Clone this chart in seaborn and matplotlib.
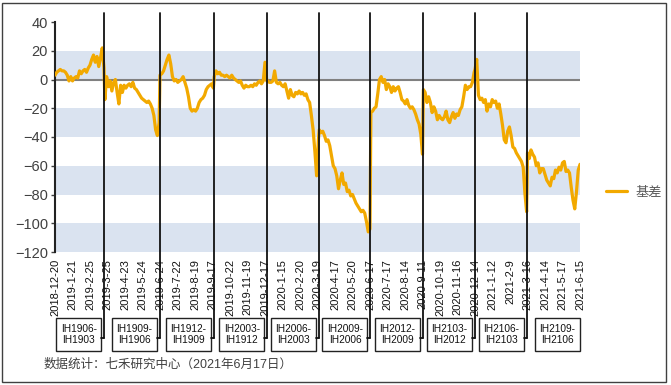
import numpy as np
import pandas as pd
import matplotlib
matplotlib.use("Agg")
import matplotlib.pyplot as plt
import seaborn as sns
from matplotlib.patches import Rectangle
from matplotlib.lines import Line2D
from matplotlib.transforms import blended_transform_factory

# trading-day index where each contract pair starts (last = end of data + 1)
roll_days = [0, 57, 120, 182, 243, 302, 361, 421, 480, 540, 601]

contracts = [
    "IH1906-\nIH1903", "IH1909-\nIH1906", "IH1912-\nIH1909", "IH2003-\nIH1912",
    "IH2006-\nIH2003", "IH2009-\nIH2006", "IH2012-\nIH2009", "IH2103-\nIH2012",
    "IH2106-\nIH2103", "IH2109-\nIH2106",
]

# basis values (roughly every 2 trading days)
seg_1906 = [3, 5, 6, 7, 6, 6, 5, 3, -1, 2, -1, 1, 2, 1, 6, 4, 6, 7, 5, 8,
            10, 14, 17, 12, 16, 9, 15, 22, 8]
seg_1909 = [-14, 2, -5, -1, -8, -2, 0, -9, -17, -4, -9, -4, -6, -4, -3, -5,
            -2, -6, -7, -9, -11, -13, -14, -15, -16, -15, -17, -20, -25, -35,
            -39, -30]
seg_1912 = [3, 4, 6, 10, 14, 17, 11, 2, -1, 0, -2, -1, 0, 2, -2, -6, -12,
            -20, -22, -21, -22, -20, -16, -14, -13, -11, -7, -5, -4, -3, -6]
seg_2003 = [2, 6, 4, 5, 3, 3, 2, 3, 2, 1, 3, 1, 0, -1, -2, -1, -4, -6, -4,
            -5, -5, -4, -5, -3, -4, -2, -1, -3, -1, 12, -1]
seg_2006 = [-1, -2, -2, -1, 6, -2, -3, -2, -4, -5, -3, -8, -13, -7, -11,
            -12, -9, -10, -8, -10, -9, -11, -10, -14, -16, -25, -35, -50,
            -67, -42]
seg_2009 = [-35, -37, -36, -39, -43, -42, -46, -53, -60, -62, -67, -76, -70,
            -65, -73, -72, -78, -77, -81, -80, -83, -86, -88, -90, -92, -91,
            -93, -99, -106, -104]
seg_2012 = [-23, -22, -20, -19, -10, 0, 2, -2, 0, -7, -3, -5, -9, -5, -8,
            -6, -5, -9, -14, -15, -17, -14, -18, -20, -19, -21, -24, -28,
            -31, -38, -52]
seg_2103 = [-7, -9, -16, -12, -16, -23, -19, -22, -28, -25, -27, -28, -26,
            -22, -28, -30, -26, -23, -27, -24, -25, -21, -19, -12, -4, -7,
            -5, -5, -2, 5]
seg_2106 = [7, 14, -11, -14, -13, -16, -14, -22, -17, -19, -14, -16, -15,
            -20, -17, -24, -32, -42, -44, -36, -33, -39, -47, -48, -51, -53,
            -55, -57, -61, -79, -92]
seg_2109 = [-51, -55, -49, -52, -54, -60, -58, -65, -62, -62, -66, -70, -72,
            -74, -68, -69, -63, -65, -61, -63, -58, -57, -64, -63, -65, -75,
            -84, -90, -78, -63, -59]

tick_dates = [
    "2018-12-20", "2019-1-21", "2019-2-25", "2019-3-25", "2019-4-23",
    "2019-5-24", "2019-6-24", "2019-7-22", "2019-8-19", "2019-9-17",
    "2019-10-22", "2019-11-19", "2019-12-17", "2020-1-15", "2020-2-20",
    "2020-3-19", "2020-4-17", "2020-5-20", "2020-6-17", "2020-7-17",
    "2020-8-14", "2020-9-11", "2020-10-19", "2020-11-16", "2020-12-14",
    "2021-1-12", "2021-2-9", "2021-3-16", "2021-4-14", "2021-5-17",
    "2021-6-15",
]
tick_step = 20

segments = [seg_1906, seg_1909, seg_1912, seg_2003, seg_2006,
            seg_2009, seg_2012, seg_2103, seg_2106, seg_2109]

# spread each segment's values over its trading days
days, vals = [], []
for i, seg in enumerate(segments):
    d = np.linspace(roll_days[i], roll_days[i + 1] - 1, len(seg))
    days.extend(d)
    vals.extend(seg)
df = pd.DataFrame({"day": days, "basis": vals})

sns.set_style("white")
plt.rcParams["font.family"] = ["Liberation Sans", "Noto Sans CJK SC", "DejaVu Sans"]

W, H = 671, 385
fig = plt.figure(figsize=(W / 100, H / 100), dpi=100)
ax = fig.add_axes([55 / W, 1 - 252 / H, (580 - 55) / W, (252 - 22) / H])

band_color = "#dae3f0"
orange = "#f2a900"

for lo in [0, -40, -80, -120]:
    ax.axhspan(lo, lo + 20, color=band_color, lw=0, zorder=0)
ax.axhline(0, color="#808080", lw=1.5, zorder=1)

sns.lineplot(data=df, x="day", y="basis", ax=ax, color=orange, lw=2.3,
             label="基差", zorder=3)

ax.set_xlim(0, 600)
ax.set_ylim(-120, 40)
ax.set_yticks(np.arange(-120, 41, 20))
ax.set_xticks(np.arange(0, 601, tick_step))
ax.set_xticklabels(tick_dates, rotation=90, fontsize=8, color="#111111",
                   va="top", ha="center")
ax.tick_params(axis="y", labelsize=10.5, labelcolor="#404040", length=3,
               width=1, color="#404040", pad=2, direction="out", left=True)
ax.tick_params(axis="x", length=0, pad=5)
ax.set_xlabel("")
ax.set_ylabel("")
for s in ["top", "right", "bottom"]:
    ax.spines[s].set_visible(False)
ax.spines["left"].set_color("#222222")
ax.spines["left"].set_linewidth(1.5)

leg = ax.legend(loc="center left", bbox_to_anchor=(606 / W, 1 - 193 / H),
                bbox_transform=fig.transFigure, frameon=False, fontsize=9.5,
                handlelength=1.6, handletextpad=0.6, borderpad=0,
                borderaxespad=0)
for t in leg.get_texts():
    t.set_color("#595959")

# contract roll lines and label boxes (pixel layout in figure space)
def fy(py):
    return 1 - py / H

tr = blended_transform_factory(ax.transData, fig.transFigure)
x_to_px = lambda d: 55 + d * (580 - 55) / 600
box_w, box_h = 45, 33
box_top = 318
for i, name in enumerate(contracts):
    if i < len(contracts) - 1:
        xd = roll_days[i + 1] - 0.5
        lx = x_to_px(xd)
        fig.add_artist(Line2D([xd, xd], [fy(13), fy(338)], transform=tr,
                              color="#111111", lw=1.3, zorder=5))
        right = lx - 3
        fig.add_artist(Line2D([right / W, lx / W], [fy(338), fy(338)],
                              transform=fig.transFigure, color="#111111",
                              lw=1.3))
    else:
        right = 580
    left = right - box_w
    fig.add_artist(Rectangle((left / W, fy(box_top + box_h)), box_w / W,
                             box_h / H, transform=fig.transFigure,
                             facecolor="white", edgecolor="#222222", lw=1))
    fig.text((left + box_w / 2) / W, fy(box_top + box_h / 2), name,
             ha="center", va="center", fontsize=7.3, color="#111111",
             linespacing=1.05)

fig.text(44 / W, fy(365), "数据统计：七禾研究中心（2021年6月17日）",
         ha="left", va="center", fontsize=9, color="#404040")

fig.add_artist(Rectangle((2 / W, fy(382)), 664 / W, 379 / H,
                         transform=fig.transFigure, fill=False,
                         edgecolor="#404040", lw=1))

fig.savefig("out.png", dpi=100)
